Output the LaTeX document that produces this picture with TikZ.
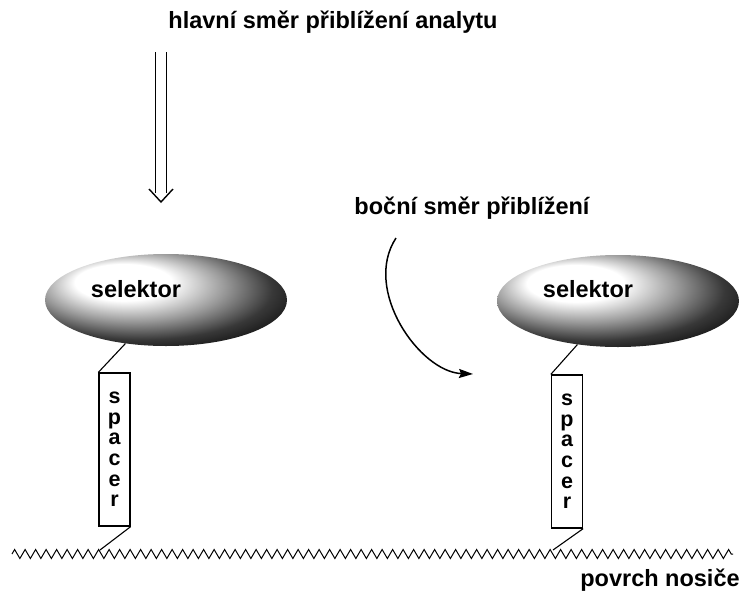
\documentclass[tikz,border=0pt]{standalone}
\usepackage{fontspec}
\setmainfont{Liberation Sans}
\usetikzlibrary{arrows.meta, positioning, calc, shapes.geometric, decorations.pathmorphing}

\pgfdeclareradialshading{selshade}{\pgfpoint{-11bp}{12bp}}{color(0bp)=(white); color(10bp)=(white); color(19bp)=(black!40); color(27bp)=(black!78); color(34bp)=(black!95); color(40bp)=(black); color(50bp)=(black)}

\begin{document}
\begin{tikzpicture}[
    x=1pt, y=-1pt,
    >=Stealth,
    font=\fontsize{23.5}{26}\selectfont\bfseries,
    lbl/.style={inner sep=0pt, align=center},
    selector/.style={ellipse, shading=selshade, minimum width=242pt, minimum height=92pt, inner sep=0pt},
    spacerbox/.style={draw, line width=1.3pt, fill=white, minimum width=31pt, minimum height=153pt, inner sep=0pt, align=center, font=\fontsize{21.5}{20.6}\selectfont\bfseries},
    link/.style={line width=1.1pt},
    arr/.style={->, line width=1.5pt}
]
\useasboundingbox (0,0) rectangle (740,592);

% ================= LABELS =================
\node[lbl] (mainLbl) at (333,22) {hlavní směr přiblížení analytu};
\node[lbl] (sideLbl) at (472,208) {boční směr přiblížení};
\node[lbl] (surfLbl) at (660,580) {povrch nosiče};

% ================= APPROACH ARROWS =================
\coordinate (mainTop) at (161,52);
\coordinate (mainNeck) at (161,193);
\coordinate (mainTip) at (161,202);
\draw[double, double distance=9.5pt, line width=1.4pt] (mainTop) -- (mainNeck);
\draw[line width=1.4pt] ($(mainTip)+(-12,-13)$) -- (mainTip) -- ($(mainTip)+(12,-13)$);

\coordinate (sideStart) at (396,238);
\coordinate (sideEnd) at (473,374);
\draw[arr, -{Stealth[length=14pt,width=9pt,inset=2pt]}] (sideStart) .. controls (362,290) and (420,372) .. (sideEnd);

% ================= SURFACE =================
\coordinate (surfW) at (12,554);
\coordinate (surfE) at (733,554);
\draw[line width=1pt, decorate, decoration={zigzag, segment length=10.5pt, amplitude=4.5pt}] (surfW) -- (surfE);

% ================= LEFT SELECTOR =================
\node[selector] (selL) at (166,300) {};
\node[lbl] at ($(selL.center)+(-30,-11)$) {selektor};
\node[spacerbox] (spL) at (114.5,449.5) {s\\p\\a\\c\\e\\r};
\coordinate (footL) at (100,550);
\draw[link] (selL.-133) -- (spL.north west);
\draw[link] (spL.south east) -- (footL);

% ================= RIGHT SELECTOR =================
\node[selector] (selR) at (618,301) {};
\node[lbl] at ($(selR.center)+(-30,-12)$) {selektor};
\node[spacerbox] (spR) at (567,451.5) {s\\p\\a\\c\\e\\r};
\coordinate (footR) at (553,550);
\draw[link] (selR.-133) -- (spR.north west);
\draw[link] (spR.south east) -- (footR);

\end{tikzpicture}
\end{document}
